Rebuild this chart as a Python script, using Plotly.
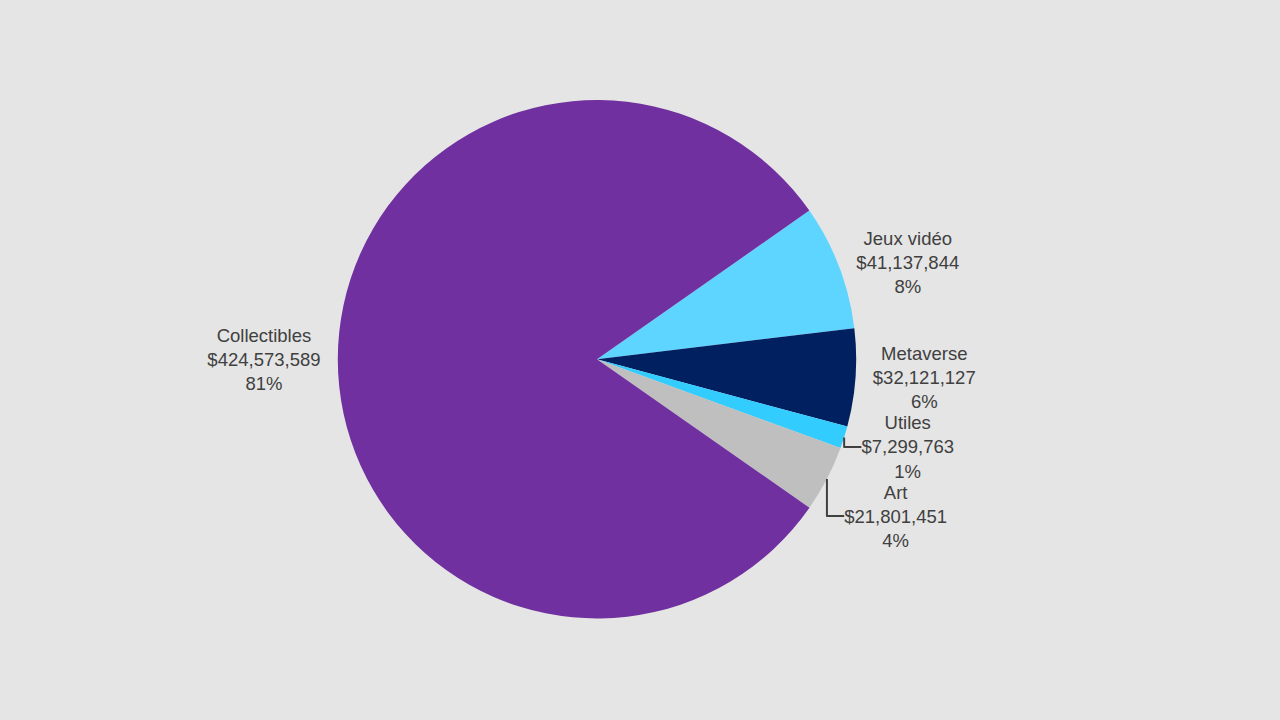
import plotly.graph_objects as go

labels = ["Jeux vidéo", "Metaverse", "Utiles", "Art", "Collectibles"]
values = [41137844, 32121127, 7299763, 21801451, 424573589]
colors = ["#5DD5FF", "#002060", "#33CCFF", "#BFBFBF", "#7030A0"]

fig = go.Figure(go.Pie(
    labels=labels,
    values=values,
    sort=False,
    direction="clockwise",
    rotation=55,
    automargin=False,
    marker=dict(colors=colors, line=dict(width=0)),
    textposition="outside",
    texttemplate="%{label}<br>$%{value:,}<br>%{percent:.0%}",
    textfont=dict(family="Liberation Sans, Arial", size=18.5, color="#404040"),
    showlegend=False,
    hoverinfo="label+value+percent",
    domain=dict(x=[0.0, 0.9328], y=[0.141, 0.861]),
))

fig.update_layout(
    width=1280, height=720,
    paper_bgcolor="#E5E5E5",
    plot_bgcolor="#E5E5E5",
    margin=dict(l=0, r=0, t=0, b=0, autoexpand=False),
)

fig.write_html("out.html")
